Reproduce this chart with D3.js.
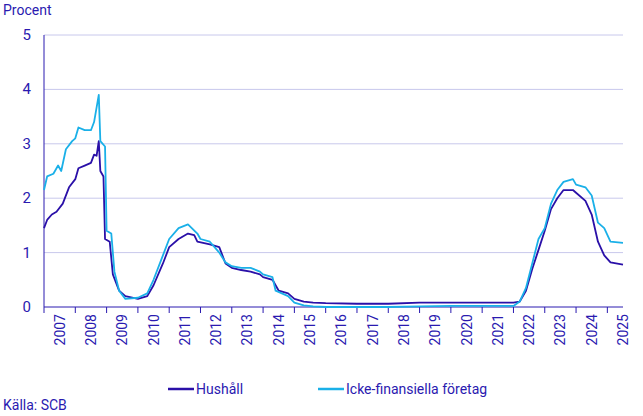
<!DOCTYPE html>
<html><head><meta charset="utf-8">
<script src="https://cdn.jsdelivr.net/npm/d3@7"></script>
<style>body{margin:0;background:#fff}text{font-family:Roboto,"Noto Sans",sans-serif}</style>
</head><body><svg id="chart" width="643" height="416"></svg>
<script>
const years = d3.range(2007, 2026);
const yTicks = [0, 1, 2, 3, 4, 5];
// [decimal year, percent]
const hushall = [[2007.0,1.45],[2007.1,1.6],[2007.25,1.7],[2007.4,1.75],[2007.6,1.9],[2007.8,2.2],[2008.0,2.35],[2008.1,2.55],[2008.3,2.6],[2008.5,2.65],[2008.6,2.8],[2008.68,2.78],[2008.75,3.05],[2008.8,2.5],[2008.9,2.4],[2008.95,1.25],[2009.1,1.2],[2009.2,0.6],[2009.4,0.3],[2009.6,0.2],[2010.0,0.15],[2010.3,0.2],[2010.5,0.4],[2010.8,0.8],[2011.0,1.1],[2011.3,1.25],[2011.6,1.35],[2011.8,1.32],[2011.9,1.2],[2012.3,1.15],[2012.6,1.1],[2012.8,0.8],[2013.0,0.72],[2013.3,0.68],[2013.6,0.65],[2013.9,0.6],[2014.0,0.55],[2014.3,0.5],[2014.5,0.3],[2014.8,0.25],[2015.0,0.15],[2015.3,0.1],[2015.6,0.08],[2016.0,0.07],[2017.0,0.06],[2018.0,0.06],[2019.0,0.08],[2020.0,0.08],[2021.0,0.08],[2022.0,0.08],[2022.2,0.1],[2022.4,0.3],[2022.6,0.7],[2022.8,1.05],[2023.0,1.4],[2023.2,1.8],[2023.4,2.0],[2023.6,2.15],[2023.9,2.15],[2024.0,2.1],[2024.3,1.95],[2024.5,1.7],[2024.7,1.2],[2024.9,0.95],[2025.1,0.82],[2025.5,0.78]];
const foretag = [[2007.0,2.15],[2007.1,2.4],[2007.3,2.45],[2007.45,2.6],[2007.55,2.5],[2007.7,2.9],[2007.9,3.05],[2008.0,3.1],[2008.1,3.3],[2008.3,3.25],[2008.5,3.25],[2008.6,3.4],[2008.75,3.9],[2008.8,3.05],[2008.95,2.95],[2009.0,1.4],[2009.15,1.35],[2009.25,0.65],[2009.4,0.3],[2009.6,0.15],[2010.0,0.17],[2010.3,0.25],[2010.5,0.5],[2010.8,0.95],[2011.0,1.25],[2011.3,1.45],[2011.6,1.52],[2011.9,1.35],[2012.0,1.25],[2012.3,1.2],[2012.6,1.0],[2012.8,0.82],[2013.0,0.75],[2013.3,0.72],[2013.6,0.72],[2013.9,0.65],[2014.0,0.6],[2014.3,0.55],[2014.4,0.3],[2014.8,0.2],[2015.0,0.08],[2015.3,0.03],[2015.6,0.01],[2016.0,0.0],[2018.0,0.0],[2019.0,0.01],[2020.0,0.02],[2021.0,0.02],[2022.0,0.02],[2022.2,0.1],[2022.4,0.35],[2022.6,0.8],[2022.8,1.25],[2023.0,1.45],[2023.2,1.9],[2023.4,2.15],[2023.6,2.3],[2023.9,2.35],[2024.0,2.25],[2024.3,2.2],[2024.5,2.05],[2024.7,1.55],[2024.9,1.45],[2025.1,1.2],[2025.5,1.18]];
const seriesNames = ["Hushåll", "Icke-finansiella företag"];
const colors = ["#2a10a8", "#1ab0e8"];
const textColor = "#2a1ab0";

const svg = d3.select("#chart");
const x = d3.scaleLinear().domain([2007, 2025.5]).range([44, 623]);
const y = d3.scaleLinear().domain([0, 5]).range([307, 35]);

// grid
svg.append("g").selectAll("line").data(yTicks.slice(1)).join("line")
  .attr("x1", 44).attr("x2", 623).attr("y1", d => y(d)).attr("y2", d => y(d))
  .attr("stroke", "#c8c8ec").attr("stroke-width", 1);

// y axis
svg.append("line").attr("x1", 44).attr("x2", 44).attr("y1", 35).attr("y2", 307).attr("stroke", textColor);
svg.append("g").selectAll("text").data(yTicks).join("text")
  .attr("x", 31).attr("y", d => y(d) + 5).attr("text-anchor", "end")
  .attr("font-size", 15).attr("fill", textColor).text(d => d);
svg.append("text").attr("x", 3).attr("y", 15).attr("font-size", 14).attr("fill", textColor).text("Procent");

// x axis
svg.append("line").attr("x1", 44).attr("x2", 623).attr("y1", 307).attr("y2", 307).attr("stroke", textColor);
svg.append("g").selectAll("line").data(years).join("line")
  .attr("x1", d => x(d)).attr("x2", d => x(d)).attr("y1", 307).attr("y2", 313).attr("stroke", textColor);
svg.append("g").selectAll("text").data(years).join("text")
  .attr("transform", d => `translate(${x(d + 0.5) + 5},314) rotate(-90)`)
  .attr("text-anchor", "end").attr("font-size", 14).attr("fill", textColor).text(d => d);

// lines
const line = d3.line().x(d => x(d[0])).y(d => y(d[1]));
[hushall, foretag].forEach((s, i) => {
  svg.append("path").datum(s).attr("d", line).attr("fill", "none")
    .attr("stroke", colors[i]).attr("stroke-width", 1.8).attr("stroke-linejoin", "round");
});

// legend
const legX = [168, 318];
seriesNames.forEach((n, i) => {
  svg.append("line").attr("x1", legX[i]).attr("x2", legX[i] + 26).attr("y1", 389).attr("y2", 389)
    .attr("stroke", colors[i]).attr("stroke-width", 2.5);
  svg.append("text").attr("x", legX[i] + 28).attr("y", 394).attr("font-size", 14)
    .attr("fill", textColor).text(n);
});
svg.append("text").attr("x", 3).attr("y", 410).attr("font-size", 14).attr("fill", textColor).text("Källa: SCB");
</script></body></html>
